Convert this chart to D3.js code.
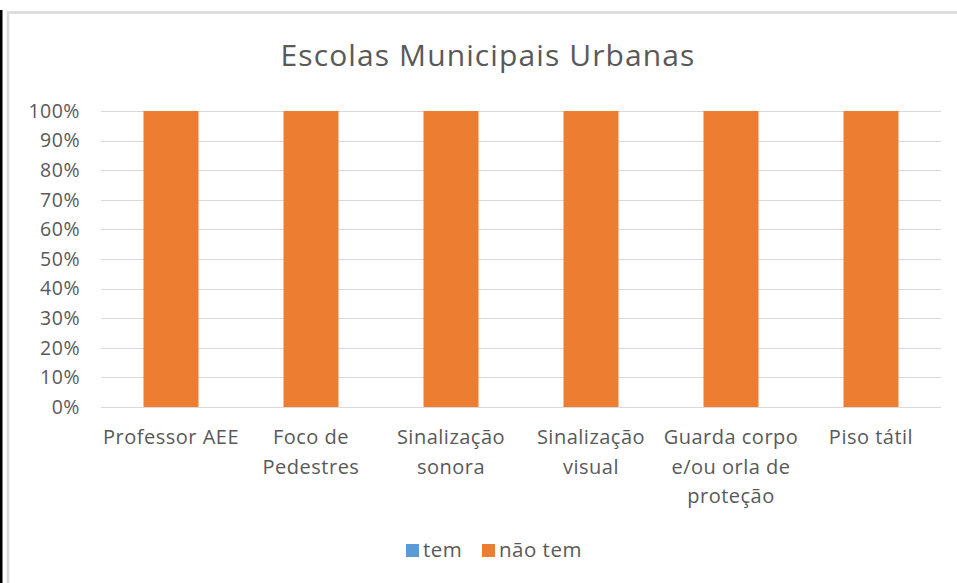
<!DOCTYPE html>
<html>
<head>
<meta charset="utf-8">
<script src="https://cdn.jsdelivr.net/npm/d3@7"></script>
<style>
  body { margin: 0; background: #fff; }
  text { font-family: "Open Sans", "Noto Sans", sans-serif; fill: #595959; }
</style>
</head>
<body>
<div id="chart"></div>
<script>
// Data
const categories = [
    ["Professor AEE"],
    ["Foco de", "Pedestres"],
    ["Sinalização", "sonora"],
    ["Sinalização", "visual"],
    ["Guarda corpo", "e/ou orla de", "proteção"],
    ["Piso tátil"]
];
const temValues = [0, 0, 0, 0, 0, 0];
const naoTemValues = [1, 1, 1, 1, 1, 1];
const seriesNames = ["tem", "não tem"];
const seriesColors = ["#5b9bd5", "#ed7d31"];
const yTicks = [0, 0.1, 0.2, 0.3, 0.4, 0.5, 0.6, 0.7, 0.8, 0.9, 1];

const W = 957, H = 583;
const margin = { top: 111, right: 16, bottom: 176, left: 101 },
    width = W - margin.left - margin.right,
    height = H - margin.top - margin.bottom;

const root = d3.select("#chart")
    .append("svg")
    .attr("width", W)
    .attr("height", H);

// outer frame (screenshot edges)
root.append("rect").attr("x", 0).attr("y", 10).attr("width", 2.5).attr("height", 573).attr("fill", "#000");
root.append("path")
    .attr("d", "M8,583 V12.5 H957")
    .attr("fill", "none")
    .attr("stroke", "#d9d9d9")
    .attr("stroke-width", 2.5);

const svg = root.append("g")
    .attr("transform", `translate(${margin.left}, ${margin.top})`);

const idx = d3.range(categories.length);

// X scale
const x = d3.scaleBand()
    .domain(idx)
    .range([0, width])
    .paddingInner(0.607)
    .paddingOuter(0.3035);

// Y scale
const y = d3.scaleLinear()
    .domain([0, 1])
    .range([height, 0]);

// gridlines
svg.append("g")
    .selectAll("line")
    .data(yTicks)
    .join("line")
    .attr("x1", 0)
    .attr("x2", width)
    .attr("y1", d => Math.round(y(d)) + 0.5)
    .attr("y2", d => Math.round(y(d)) + 0.5)
    .attr("stroke", "#d9d9d9")
    .attr("stroke-width", 1);

// Y axis labels
const yAxis = svg.append("g")
    .call(d3.axisLeft(y).tickValues(yTicks).tickFormat(d3.format(".0%")).tickSize(0).tickPadding(21));
yAxis.select(".domain").remove();
yAxis.selectAll("text")
    .style("font-family", "'Open Sans', sans-serif")
    .style("font-size", "19.5px")
    .style("letter-spacing", "0.5px")
    .attr("fill", "#595959");

// stacked bars
const stacked = d3.stack().keys([0, 1])
    .value((i, k) => (k === 0 ? temValues[i] : naoTemValues[i]))(idx);

svg.append("g")
    .selectAll("g")
    .data(stacked)
    .join("g")
    .attr("fill", (d, k) => seriesColors[k])
    .selectAll("rect")
    .data(d => d.map((s, i) => ({ s, i })))
    .join("rect")
    .attr("x", d => x(d.i))
    .attr("width", x.bandwidth())
    .attr("y", d => y(d.s[1]))
    .attr("height", d => y(d.s[0]) - y(d.s[1]));

// category labels
const xl = svg.append("g")
    .selectAll("text")
    .data(idx)
    .join("text")
    .attr("text-anchor", "middle")
    .attr("x", i => x(i) + x.bandwidth() / 2)
    .attr("y", height + 37)
    .style("font-size", "20px")
    .style("letter-spacing", "0.5px");
xl.selectAll("tspan")
    .data(i => categories[i].map(t => ({ t, i })))
    .join("tspan")
    .attr("x", d => x(d.i) + x.bandwidth() / 2)
    .attr("dy", (d, j) => (j === 0 ? 0 : 29.5))
    .text(d => d.t);

// Title
root.append("text")
    .attr("x", 488)
    .attr("y", 66)
    .attr("text-anchor", "middle")
    .style("font-size", "30px")
    .style("letter-spacing", "1.1px")
    .text("Escolas Municipais Urbanas");

// Legend
const legend = root.append("g").attr("transform", "translate(406, 557)");
const legendX = [0, 76];
seriesNames.forEach((name, k) => {
    const g = legend.append("g").attr("transform", `translate(${legendX[k]}, 0)`);
    g.append("rect")
        .attr("x", 0).attr("y", -13)
        .attr("width", 13).attr("height", 13)
        .attr("fill", seriesColors[k]);
    g.append("text")
        .attr("x", 17)
        .attr("y", 0)
        .style("font-size", "20.5px")
        .style("letter-spacing", "0.5px")
        .text(name);
});
</script>
</body>
</html>
